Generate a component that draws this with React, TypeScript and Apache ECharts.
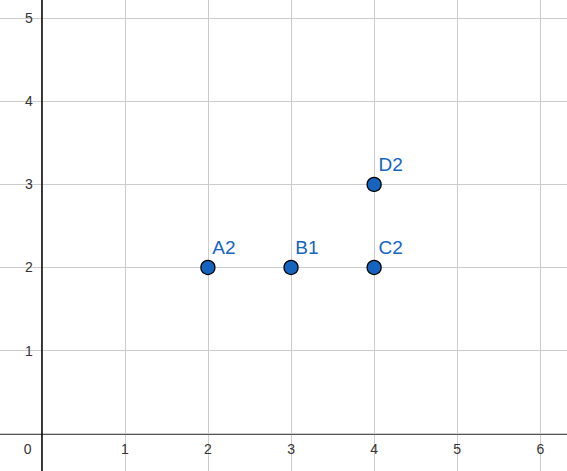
import React, { useEffect, useRef } from "react";
import * as echarts from "echarts";

// Points on the coordinate plane
const pointNames = ["A2", "B1", "C2", "D2"];
const pointX = [2, 3, 4, 4];
const pointY = [2, 2, 2, 3];

// Visible window of the plane
const xRange = [-0.502, 6.321];
const yRange = [-0.449, 5.219];

const FONT = "Arial, 'Liberation Sans', sans-serif";
const isInt = (v: number) => Math.abs(v - Math.round(v)) < 1e-9;

export default function App() {
  const ref = useRef<HTMLDivElement>(null);

  useEffect(() => {
    if (!ref.current) return;
    const chart = echarts.init(ref.current, undefined, { renderer: "svg" });
    chart.setOption({
      animation: false,
      backgroundColor: "#ffffff",
      grid: { left: 0, right: 0, top: 0, bottom: 0, containLabel: false, outerBoundsMode: "none" },
      xAxis: {
        type: "value",
        position: "bottom",
        min: xRange[0],
        max: xRange[1],
        splitNumber: 7,
        minInterval: 1,
        maxInterval: 1,
        z: 3,
        axisLine: { onZero: false, lineStyle: { color: "#555555", width: 2 } },
        axisTick: { show: false },
        axisLabel: {
          showMinLabel: false,
          showMaxLabel: false,
          margin: 8,
          color: "#333333",
          fontFamily: FONT,
          fontSize: 14,
          formatter: (v: number) => {
            if (!isInt(v)) return "";
            if (Math.round(v) === 0) return "{o|0}";
            return String(Math.round(v));
          },
          rich: {
            o: { color: "#333333", fontFamily: FONT, fontSize: 14, padding: [0, 28, 0, 0] },
          },
        },
        splitLine: {
          show: true,
          showMinLine: false,
          showMaxLine: false,
          lineStyle: { color: "#cccccc", width: 1 },
        },
      },
      yAxis: {
        type: "value",
        position: "left",
        min: yRange[0],
        max: yRange[1],
        splitNumber: 6,
        minInterval: 1,
        maxInterval: 1,
        z: 4,
        axisLine: { onZero: false, lineStyle: { color: "#000000", width: 1.5 } },
        axisTick: { show: false },
        axisLabel: {
          showMinLabel: false,
          showMaxLabel: false,
          margin: 9,
          color: "#333333",
          fontFamily: FONT,
          fontSize: 14,
          formatter: (v: number) => (isInt(v) && Math.round(v) !== 0 ? String(Math.round(v)) : ""),
        },
        splitLine: {
          show: true,
          showMinLine: false,
          showMaxLine: false,
          lineStyle: { color: "#cccccc", width: 1 },
        },
      },
      series: [
        {
          type: "scatter",
          symbol: "circle",
          symbolSize: 14,
          z: 10,
          data: pointNames.map((n, i) => ({ name: n, value: [pointX[i], pointY[i]] })),
          itemStyle: { color: "#1565c0", borderColor: "#000000", borderWidth: 1.3, opacity: 1 },
          label: {
            show: true,
            formatter: "{b}",
            position: [12, -12],
            align: "left",
            verticalAlign: "middle",
            color: "#1565c0",
            fontFamily: FONT,
            fontSize: 19,
          },
        },
      ],
    });

    // Move both axes (line and labels) onto the origin of the plane
    const origin = chart.convertToPixel({ gridIndex: 0 }, [0, 0]) as number[];
    const h = chart.getHeight();
    chart.setOption({
      xAxis: { offset: -(h - origin[1]) },
      yAxis: { offset: -origin[0] },
    });

    return () => chart.dispose();
  }, []);

  return (
    <div
      ref={ref}
      style={{ position: "fixed", left: 0, top: 0, width: 567, height: 471 }}
    />
  );
}
